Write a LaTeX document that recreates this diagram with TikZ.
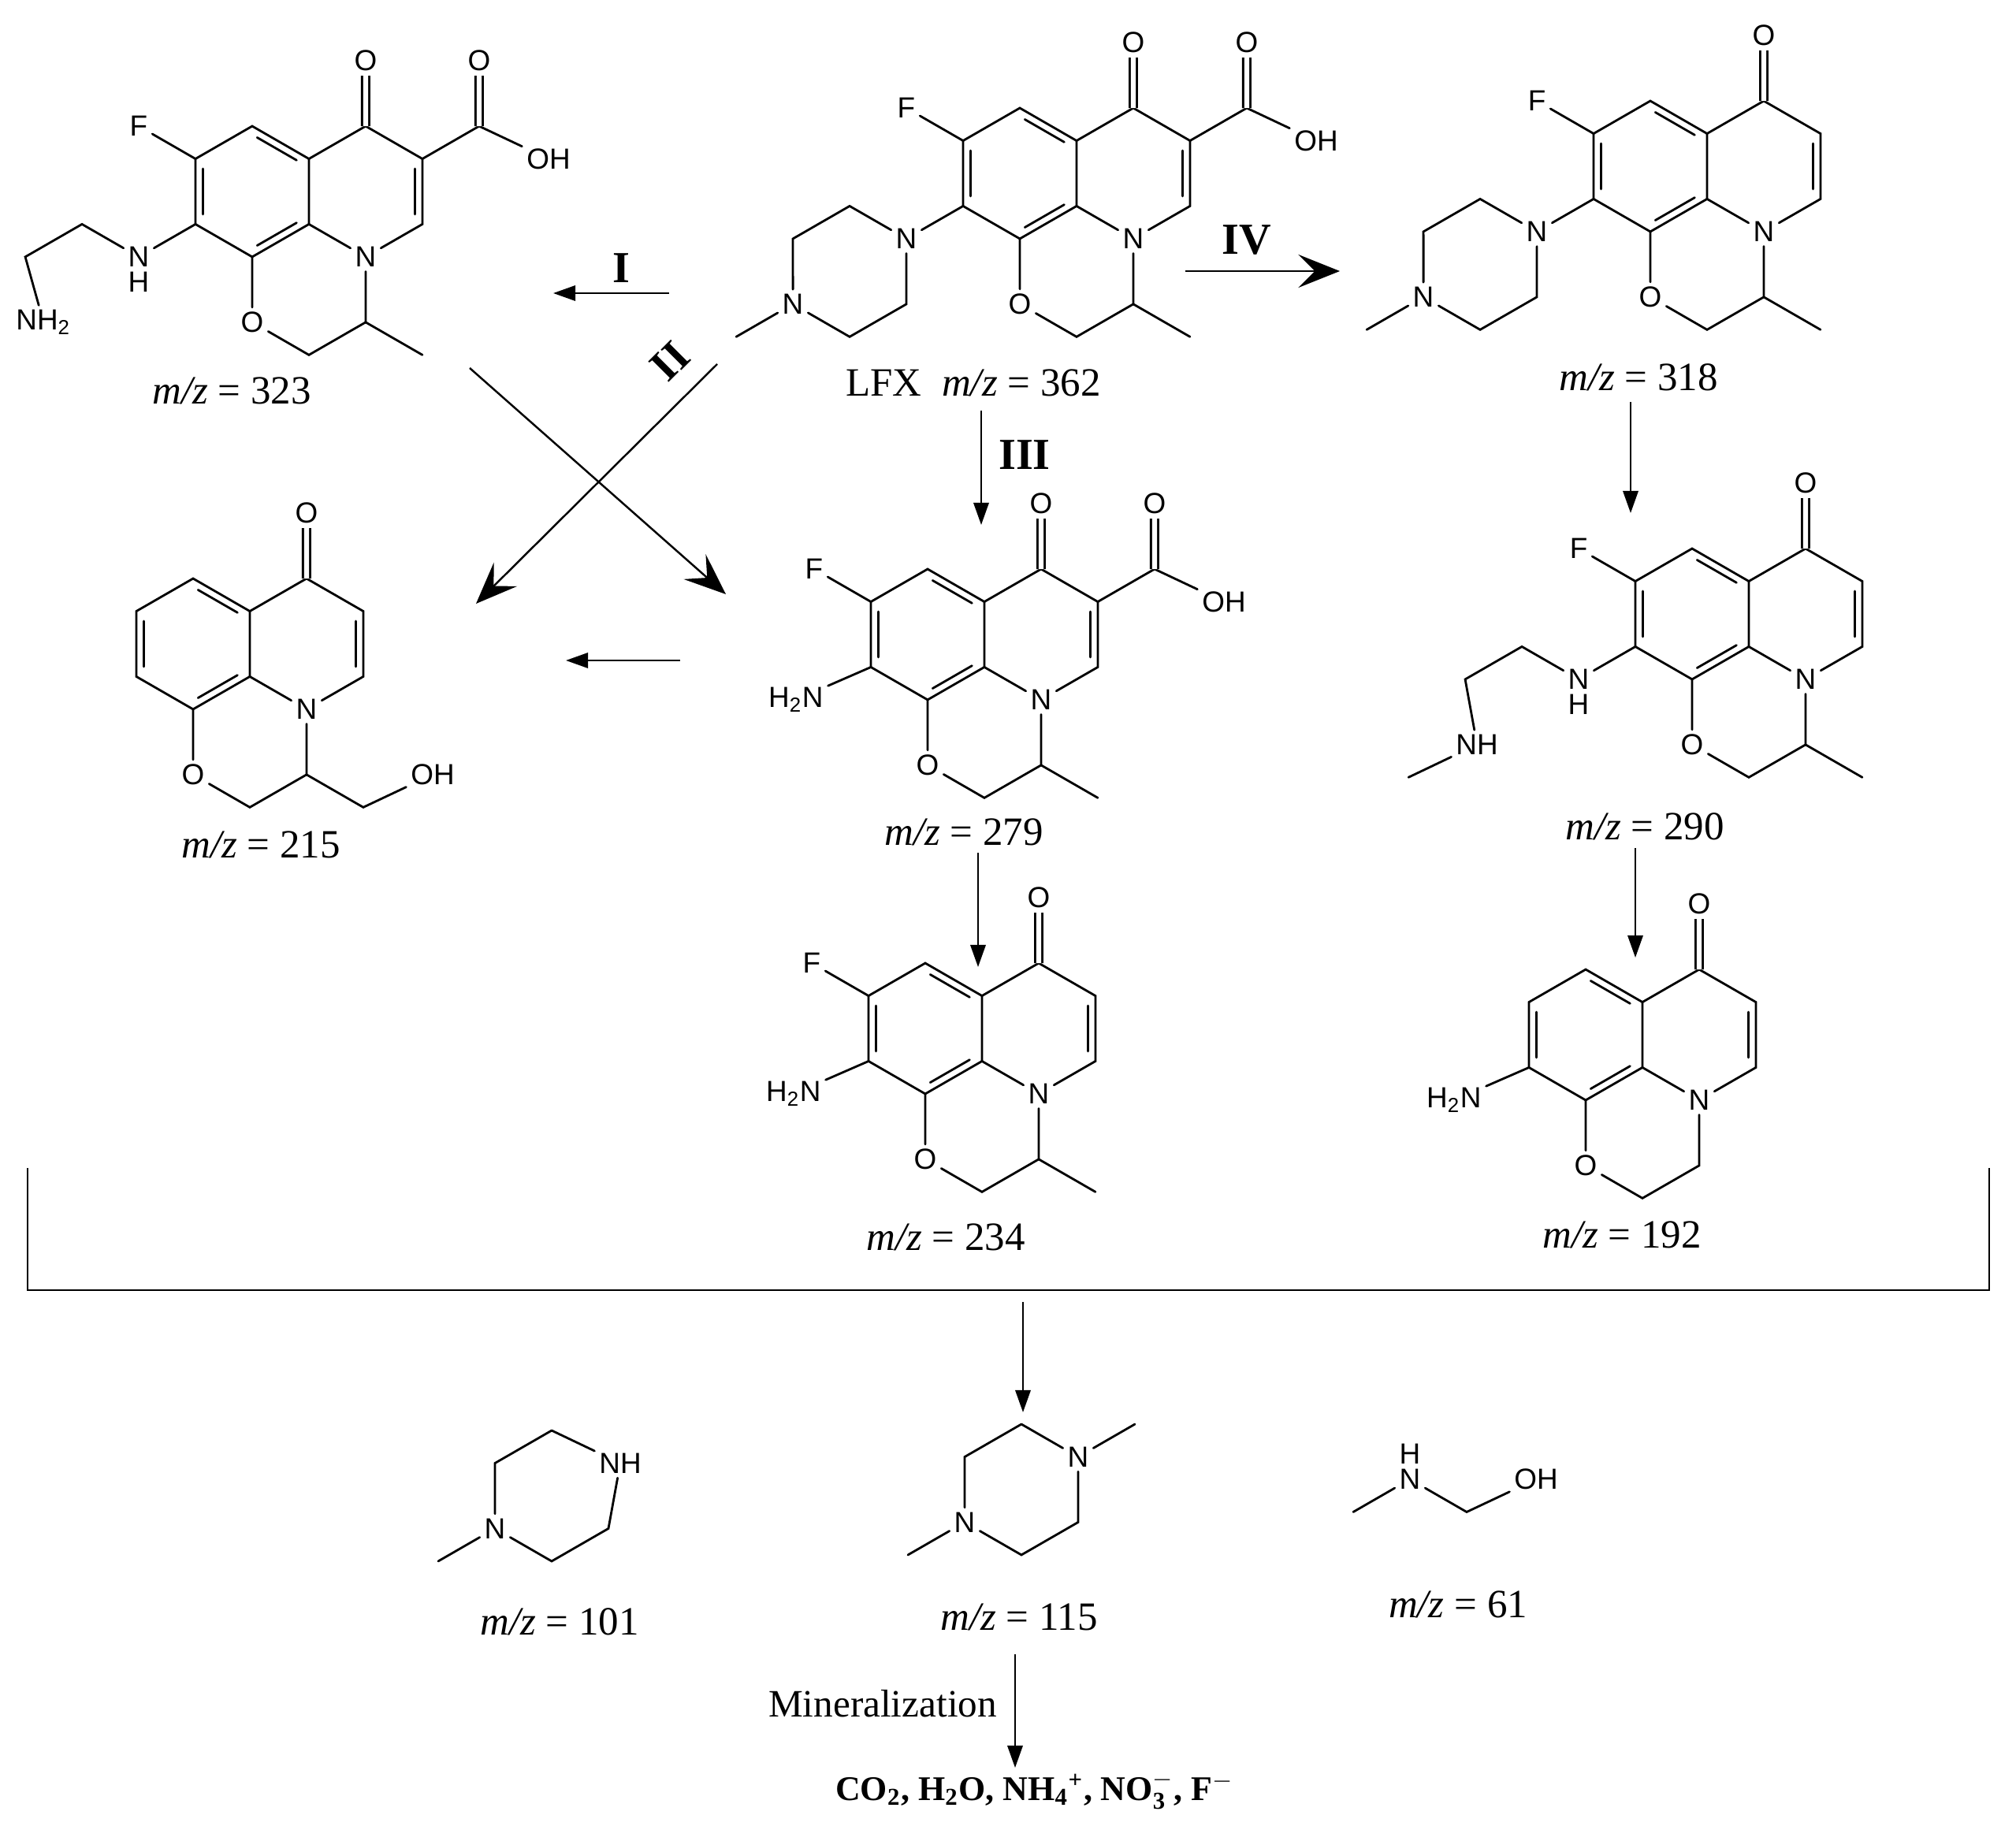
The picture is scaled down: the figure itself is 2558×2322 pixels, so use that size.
\documentclass[tikz,border=0pt]{standalone}
\usepackage{fontspec}
\setmainfont{Liberation Serif}
\newfontfamily\atomsans{Liberation Sans}
\usetikzlibrary{calc,arrows.meta}

\newcommand\atomfont{\atomsans\fontsize{10.5}{12}\selectfont}
\newcommand\tagfont{\fontsize{14.5}{17}\selectfont}
\tikzset{
  mol/.style 2 args={shift={(#1,#2)},xscale=72,yscale=83},
  bond/.style={line width=0.8pt,line cap=round},
  dbond/.style={line width=0.8pt,double,double distance=1.8pt},
  atom/.style={font=\atomfont,inner sep=1.5pt},
  tag/.style={font=\tagfont},
  roman/.style={font=\fontsize{16}{18}\selectfont\bfseries,inner sep=0pt},
  rxn/.style={line width=0.7pt,-{Triangle[length=8pt,width=5.5pt]}},
  bigrxn/.style={line width=0.7pt,-{Stealth[length=15pt,width=12pt,inset=6pt]}},
}
% inner line of a ring double bond
\newcommand\inner[3]{\draw[bond] ($($(#1)!.13!(#3)$)!.1!($(#2)!.13!(#3)$)$) -- ($($(#2)!.13!(#3)$)!.1!($(#1)!.13!(#3)$)$);}
% tricyclic core
\newcommand\core[1]{%
  \coordinate (#1c) at (0,0); \coordinate (#1q) at (2,0);
  \coordinate (#1T) at (0,-1); \coordinate (#1UR) at (1,-.5); \coordinate (#1LR) at (1,.5);
  \coordinate (#1B) at (0,1); \coordinate (#1LL) at (-1,.5); \coordinate (#1UL) at (-1,-.5);
  \coordinate (#1K) at (2,-1); \coordinate (#1C3) at (3,-.5); \coordinate (#1C2) at (3,.5);
  \coordinate (#1M) at (1,2.5); \coordinate (#1H) at (2,2);
  \node[atom] (#1N) at (2,1) {N};
  \node[atom] (#1O) at (0,2) {O};
  \node[atom] (#1KO) at (2,-2) {O};
  \draw[bond] (#1T)--(#1UR)--(#1LR)--(#1B)--(#1LL)--(#1UL)--cycle;
  \draw[bond] (#1UR)--(#1K)--(#1C3)--(#1C2)--(#1N)--(#1LR);
  \draw[bond] (#1B)--(#1O)--(#1M)--(#1H)--(#1N);
  \draw[dbond] (#1K)--(#1KO);
  \inner{#1T}{#1UR}{#1c}\inner{#1UL}{#1LL}{#1c}\inner{#1B}{#1LR}{#1c}\inner{#1C3}{#1C2}{#1q}}
% carboxylic acid on C3
\newcommand\acid[1]{%
  \coordinate (#1A) at (4,-1);
  \node[atom] (#1AO) at (4,-2) {O};
  \node[atom,anchor=west,xshift=-5pt] (#1OH) at (5,-.5) {OH};
  \draw[bond] (#1C3)--(#1A)--(#1OH);
  \draw[dbond] (#1A)--(#1AO);}
% methylpiperazine on C7
\newcommand\pip[1]{%
  \node[atom] (#1N1) at (-2,1) {N};
  \node[atom] (#1N4) at (-4,2) {N};
  \coordinate (#1p1) at (-3,.5); \coordinate (#1p2) at (-4,1);
  \coordinate (#1p3) at (-3,2.5); \coordinate (#1p4) at (-2,2);
  \coordinate (#1pm) at (-5,2.5);
  \draw[bond] (#1LL)--(#1N1)--(#1p1)--(#1p2)--(#1N4)--(#1p3)--(#1p4)--(#1N1);
  \draw[bond] (#1N4)--(#1pm);}

\begin{document}
\begin{tikzpicture}[x=0.1mm,y=-0.1mm]
\useasboundingbox (0,0) rectangle (2558,2322);

% m/z 323
\begin{scope}[mol={320}{243}]
  \core{a}\acid{a}
  \node[atom] (aF) at (-2,-1) {F};
  \node[atom] (aNH) at (-2,1) {N};
  \node[atom,anchor=north,inner sep=0pt] at (aNH.south) {H};
  \coordinate (a1) at (-3,.5); \coordinate (a2) at (-4,1);
  \node[atom,anchor=west,xshift=-5pt] (aNH2) at (-4,2) {NH\textsubscript{2}};
  \coordinate (aMe) at (3,2.5);
  \draw[bond] (aUL)--(aF) (aLL)--(aNH)--(a1)--(a2)--(aNH2) (aH)--(aMe);
\end{scope}

% LFX
\begin{scope}[mol={1294}{220}]
  \core{l}\acid{l}\pip{l}
  \node[atom] (lF) at (-2,-1) {F};
  \coordinate (lMe) at (3,2.5);
  \draw[bond] (lUL)--(lF) (lH)--(lMe);
\end{scope}

% m/z 318
\begin{scope}[mol={2094}{211}]
  \core{b}\pip{b}
  \node[atom] (bF) at (-2,-1) {F};
  \coordinate (bMe) at (3,2.5);
  \draw[bond] (bUL)--(bF) (bH)--(bMe);
\end{scope}

% m/z 279
\begin{scope}[mol={1177}{805}]
  \core{c}\acid{c}
  \node[atom] (cF) at (-2,-1) {F};
  \node[atom,anchor=east,xshift=5pt] (cNH2) at (-2,1) {H\textsubscript{2}N};
  \coordinate (cMe) at (3,2.5);
  \draw[bond] (cUL)--(cF) (cLL)--(cNH2) (cH)--(cMe);
\end{scope}

% m/z 215
\begin{scope}[mol={245}{817}]
  \core{e}
  \coordinate (eS) at (3,2.5);
  \node[atom,anchor=west,xshift=-5pt] (eOH) at (4,2) {OH};
  \draw[bond] (eH)--(eS)--(eOH);
\end{scope}

% m/z 290
\begin{scope}[mol={2147}{779}]
  \core{d}
  \node[atom] (dF) at (-2,-1) {F};
  \node[atom] (dNH) at (-2,1) {N};
  \node[atom,anchor=north,inner sep=0pt] at (dNH.south) {H};
  \coordinate (d1) at (-3,.5); \coordinate (d2) at (-4,1);
  \node[atom,anchor=west,xshift=-5pt] (dNH2) at (-4,2) {NH};
  \coordinate (dm) at (-5,2.5); \coordinate (dMe) at (3,2.5);
  \draw[bond] (dUL)--(dF) (dLL)--(dNH)--(d1)--(d2)--(dNH2)--(dm) (dH)--(dMe);
\end{scope}

% m/z 234
\begin{scope}[mol={1174}{1305}]
  \core{f}
  \node[atom] (fF) at (-2,-1) {F};
  \node[atom,anchor=east,xshift=5pt] (fNH2) at (-2,1) {H\textsubscript{2}N};
  \coordinate (fMe) at (3,2.5);
  \draw[bond] (fUL)--(fF) (fLL)--(fNH2) (fH)--(fMe);
\end{scope}

% m/z 192
\begin{scope}[mol={2012}{1313}]
  \core{g}
  \node[atom,anchor=east,xshift=5pt] (gNH2) at (-2,1) {H\textsubscript{2}N};
  \draw[bond] (gLL)--(gNH2);
\end{scope}

% m/z 101
\begin{scope}[mol={700}{1898}]
  \coordinate (h1) at (0,-1); \coordinate (h3) at (1,.5);
  \coordinate (h4) at (0,1); \coordinate (h6) at (-1,-.5); \coordinate (hm) at (-2,1);
  \node[atom,anchor=west,xshift=-5pt] (hNH) at (1,-.5) {NH};
  \node[atom] (hN) at (-1,.5) {N};
  \draw[bond] (h1)--(hNH)--(h3)--(h4)--(hN)--(h6)--(h1) (hN)--(hm);
\end{scope}

% m/z 115
\begin{scope}[mol={1296}{1890}]
  \coordinate (i1) at (0,-1); \coordinate (i3) at (1,.5);
  \coordinate (i4) at (0,1); \coordinate (i6) at (-1,-.5);
  \coordinate (im1) at (2,-1); \coordinate (im2) at (-2,1);
  \node[atom] (iN1) at (1,-.5) {N};
  \node[atom] (iN2) at (-1,.5) {N};
  \draw[bond] (i1)--(iN1)--(i3)--(i4)--(iN2)--(i6)--(i1) (iN1)--(im1) (iN2)--(im2);
\end{scope}

% m/z 61
\begin{scope}[mol={1789}{1877}]
  \coordinate (jm) at (-1,.5); \coordinate (jC) at (1,.5);
  \node[atom] (jN) at (0,0) {N};
  \node[atom,anchor=south,inner sep=0pt] at (jN.north) {H};
  \node[atom,anchor=west,xshift=-5pt] (jOH) at (2,0) {OH};
  \draw[bond] (jm)--(jN)--(jC)--(jOH);
\end{scope}

% labels
\node[tag] (t323) at (294,496) {\textit{m/z} = 323};
\node[tag] (t362) at (1235,486) {LFX\ \ \textit{m/z} = 362};
\node[tag] (t318) at (2079,479) {\textit{m/z} = 318};
\node[tag] (t279) at (1223,1056) {\textit{m/z} = 279};
\node[tag] (t215) at (331,1072) {\textit{m/z} = 215};
\node[tag] (t290) at (2087,1049) {\textit{m/z} = 290};
\node[tag] (t234) at (1200,1570) {\textit{m/z} = 234};
\node[tag] (t192) at (2058,1567) {\textit{m/z} = 192};
\node[tag] (t101) at (710,2058) {\textit{m/z} = 101};
\node[tag] (t115) at (1293,2052) {\textit{m/z} = 115};
\node[tag] (t61) at (1850,2036) {\textit{m/z} = 61};
\node[font=\fontsize{14}{16}\selectfont] (mineral) at (1120,2162) {Mineralization};
\node[font=\fontsize{12.5}{14}\selectfont\bfseries] (prod) at (1313,2272)
  {CO\textsubscript{2}, H\textsubscript{2}O, NH\textsubscript{4}\textsuperscript{+}, NO$_{\mathbf{3}}^{-}$, F\textsuperscript{$-$}};

% arrows
\coordinate (r1a) at (849,372); \coordinate (r1b) at (702,372);
\coordinate (r2a) at (910,462); \coordinate (r2b) at (604,766);
\coordinate (r5a) at (596,467); \coordinate (r5b) at (921,754);
\coordinate (r6a) at (863,838); \coordinate (r6b) at (718,838);
\coordinate (r3a) at (1245,521); \coordinate (r3b) at (1245,666);
\coordinate (r4a) at (1504,344); \coordinate (r4b) at (1700,344);
\coordinate (r7a) at (2069,510); \coordinate (r7b) at (2069,651);
\coordinate (r8a) at (2075,1076); \coordinate (r8b) at (2075,1215);
\coordinate (r9a) at (1241,1082); \coordinate (r9b) at (1241,1227);
\coordinate (r10a) at (1298,1652); \coordinate (r10b) at (1298,1792);
\coordinate (r11a) at (1288,2099); \coordinate (r11b) at (1288,2243);
\draw[rxn] (r1a) -- (r1b);
\draw[bigrxn] (r2a) -- (r2b);
\draw[bigrxn] (r5a) -- (r5b);
\draw[rxn] (r6a) -- (r6b);
\draw[rxn] (r3a) -- (r3b);
\draw[bigrxn] (r4a) -- (r4b);
\draw[rxn] (r7a) -- (r7b);
\draw[rxn] (r8a) -- (r8b);
\draw[rxn] (r9a) -- (r9b);
\draw[rxn] (r10a) -- (r10b);
\draw[rxn] (r11a) -- (r11b);
\node[roman] (lI) at (788,340) {I};
\node[roman,rotate=45] (lII) at (850,458) {II};
\node[roman] (lIII) at (1300,577) {III};
\node[roman] (lIV) at (1582,305) {IV};

% bracket
\coordinate (k1) at (35,1482); \coordinate (k2) at (35,1637);
\coordinate (k3) at (2524,1637); \coordinate (k4) at (2524,1482);
\draw[line width=0.7pt] (k1) -- (k2) -- (k3) -- (k4);
\end{tikzpicture}
\end{document}
